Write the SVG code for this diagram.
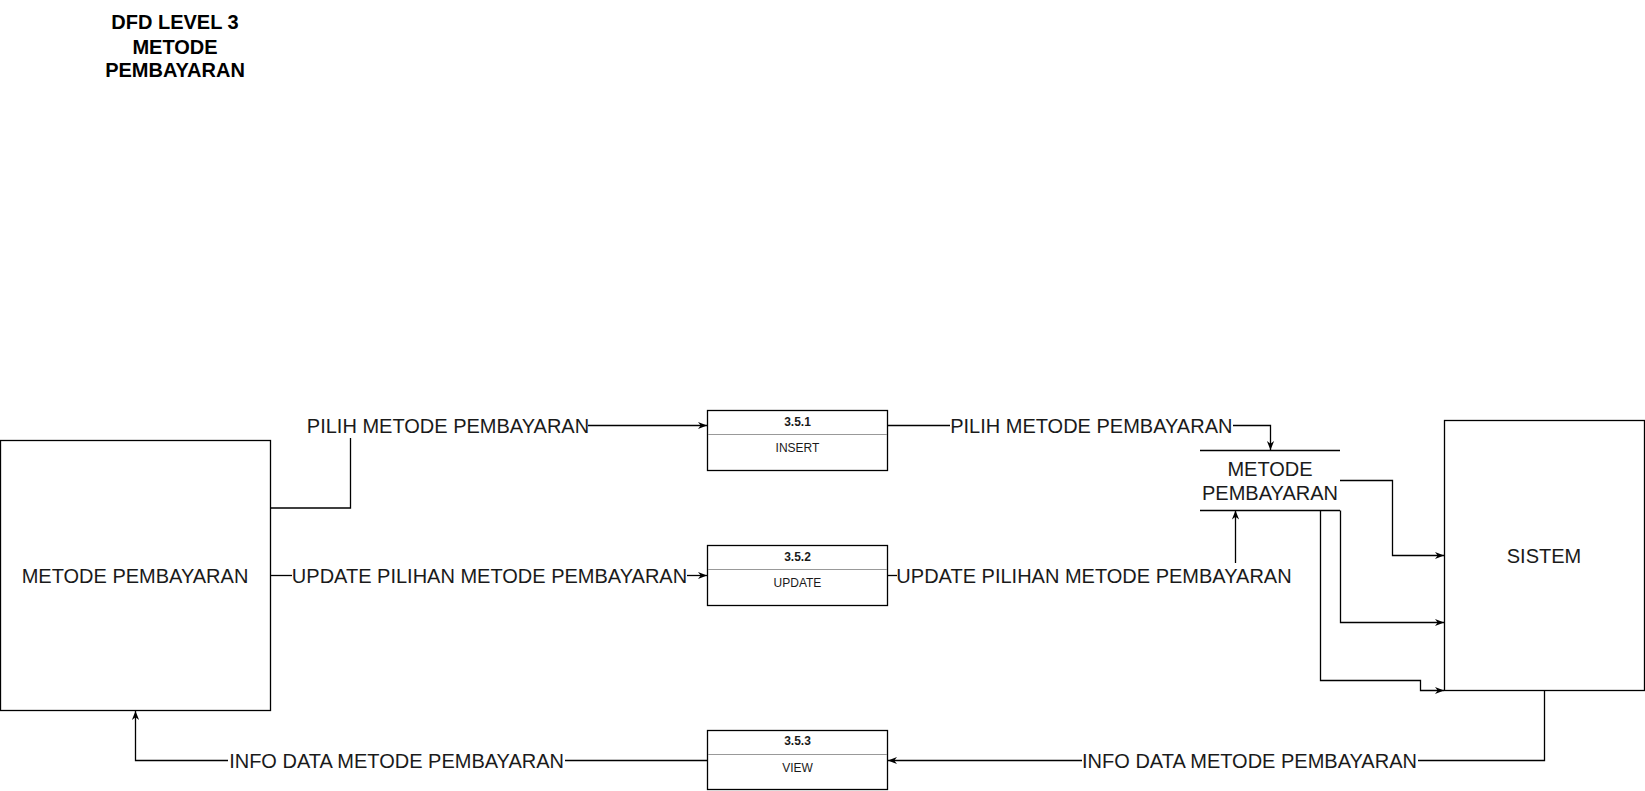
<svg xmlns="http://www.w3.org/2000/svg" width="1645" height="791" viewBox="0 0 1645 791">
<style>
text{font-family:"Liberation Sans",Arial,sans-serif;fill:#1a1a1a;text-anchor:middle}
.lbl{font-size:20px}
.title{font-size:20px;font-weight:bold;fill:#000}
.num{font-size:12px;font-weight:bold}
.sm{font-size:12px}
.box{fill:#fff;stroke:#000;stroke-width:1.3}
.div{stroke:#999;stroke-width:1}
.edge{fill:none;stroke:#000;stroke-width:1.3}
.store{stroke:#000;stroke-width:1.3}
</style>
<defs>
<marker id="arr" viewBox="0 0 10 10" refX="10" refY="5" markerWidth="9" markerHeight="9" markerUnits="userSpaceOnUse" orient="auto">
<path d="M0,1 L10,5 L0,9 L3,5 Z" fill="#000"/>
</marker>
</defs>
<rect width="1645" height="791" fill="#fff"/>
<g id="title">
<text class="title" x="175" y="28.8">DFD LEVEL 3</text>
<text class="title" x="175" y="53.8">METODE</text>
<text class="title" x="175" y="76.5">PEMBAYARAN</text>
</g>
<g id="connectors">
<polyline class="edge" points="270.5,508 350.5,508 350.5,438"/>
<line class="edge" x1="588" y1="425.5" x2="707" y2="425.5" marker-end="url(#arr)"/>
<line class="edge" x1="270.5" y1="575.5" x2="292" y2="575.5"/>
<line class="edge" x1="687" y1="575.5" x2="707" y2="575.5" marker-end="url(#arr)"/>
<line class="edge" x1="887.5" y1="425.5" x2="950" y2="425.5"/>
<polyline class="edge" points="1233,425.5 1270.5,425.5 1270.5,450" marker-end="url(#arr)"/>
<line class="edge" x1="887.5" y1="575.5" x2="897" y2="575.5"/>
<line class="edge" x1="1235.5" y1="563" x2="1235.5" y2="510.5" marker-end="url(#arr)"/>
<polyline class="edge" points="1340,480.5 1392.5,480.5 1392.5,555.5 1444,555.5" marker-end="url(#arr)"/>
<polyline class="edge" points="1340.5,510.5 1340.5,622.5 1444,622.5" marker-end="url(#arr)"/>
<polyline class="edge" points="1320.5,510.5 1320.5,680.5 1420.5,680.5 1420.5,690.5 1444,690.5" marker-end="url(#arr)"/>
<polyline class="edge" points="1544.5,690.5 1544.5,760.5 1418,760.5"/>
<line class="edge" x1="1082" y1="760.5" x2="888" y2="760.5" marker-end="url(#arr)"/>
<line class="edge" x1="707" y1="760.5" x2="565" y2="760.5"/>
<polyline class="edge" points="228,760.5 135.5,760.5 135.5,711" marker-end="url(#arr)"/>
<text class="lbl" x="448" y="433.2">PILIH METODE PEMBAYARAN</text>
<text class="lbl" x="489.5" y="582.9">UPDATE PILIHAN METODE PEMBAYARAN</text>
<text class="lbl" x="1091.3" y="432.7">PILIH METODE PEMBAYARAN</text>
<text class="lbl" x="1094" y="582.9">UPDATE PILIHAN METODE PEMBAYARAN</text>
<text class="lbl" x="1249.5" y="767.5">INFO DATA METODE PEMBAYARAN</text>
<text class="lbl" x="396.6" y="767.5">INFO DATA METODE PEMBAYARAN</text>
</g>
<g id="entity-metode">
<rect class="box" x="0.5" y="440.5" width="270" height="270"/>
<text class="lbl" x="135" y="583.2">METODE PEMBAYARAN</text>
</g>
<g id="process-351">
<rect class="box" x="707.5" y="410.5" width="180" height="60"/>
<line class="div" x1="708" y1="434.5" x2="887" y2="434.5"/>
<text class="num" x="797.5" y="426">3.5.1</text>
<text class="sm" x="797.5" y="452">INSERT</text>
</g>
<g id="process-352">
<rect class="box" x="707.5" y="545.5" width="180" height="60"/>
<line class="div" x1="708" y1="569.5" x2="887" y2="569.5"/>
<text class="num" x="797.5" y="561">3.5.2</text>
<text class="sm" x="797.5" y="587">UPDATE</text>
</g>
<g id="process-353">
<rect class="box" x="707.5" y="730.5" width="180" height="59"/>
<line class="div" x1="708" y1="754.5" x2="887" y2="754.5"/>
<text class="num" x="797.5" y="745.2">3.5.3</text>
<text class="sm" x="797.5" y="772">VIEW</text>
</g>
<g id="store-metode">
<line class="store" x1="1200" y1="450.5" x2="1340" y2="450.5"/>
<line class="store" x1="1200" y1="510.5" x2="1340" y2="510.5"/>
<text class="lbl" x="1270" y="476.2">METODE</text>
<text class="lbl" x="1270" y="499.9">PEMBAYARAN</text>
</g>
<g id="entity-sistem">
<rect class="box" x="1444.5" y="420.5" width="200" height="270"/>
<text class="lbl" x="1544" y="562.9">SISTEM</text>
</g>
</svg>
